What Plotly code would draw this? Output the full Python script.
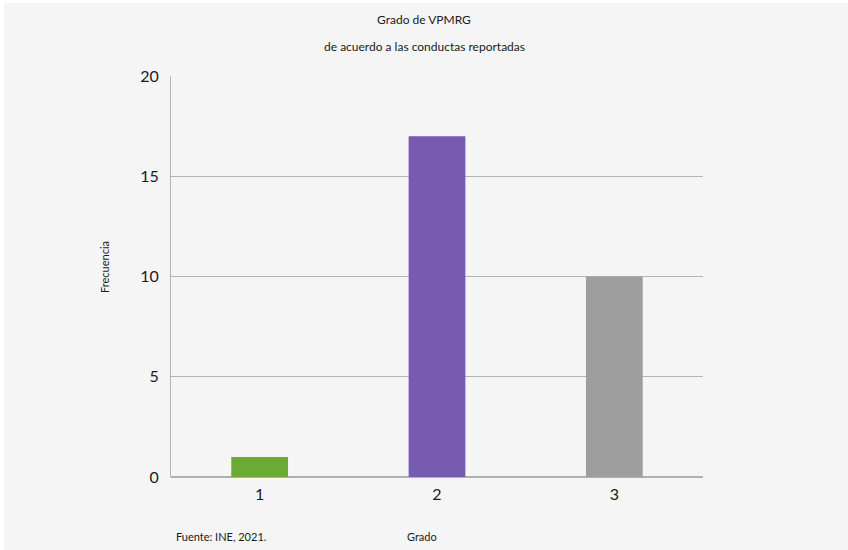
import plotly.graph_objects as go

categories = ["1", "2", "3"]
values = [1, 17, 10]
bar_colors = ["#6aaa35", "#765bb0", "#9e9e9e"]
y_ticks = [0, 5, 10, 15, 20]

bg = "#f5f5f5"
font_family = "Lato, 'Open Sans', sans-serif"
text_color = "#1a1a1a"

W, H = 848, 550
L, R, T, B = 171, 145, 76, 73

fig = go.Figure(
    go.Bar(
        x=categories,
        y=values,
        marker=dict(color=bar_colors, line=dict(width=0)),
        hoverinfo="x+y",
    )
)

fig.update_layout(
    width=W,
    height=H,
    paper_bgcolor=bg,
    plot_bgcolor=bg,
    margin=dict(l=L, r=R, t=T, b=B),
    bargap=0.68,
    showlegend=False,
    font=dict(family=font_family, color=text_color),
    xaxis=dict(
        type="category",
        showgrid=False,
        showline=False,
        ticks="",
        tickfont=dict(size=16),
        ticklabelstandoff=6,
    ),
    yaxis=dict(
        range=[0, 20],
        tickvals=y_ticks,
        showgrid=True,
        gridcolor="#b4b4b4",
        gridwidth=1,
        zeroline=True,
        zerolinecolor="#b0b0b0",
        zerolinewidth=2,
        showline=True,
        linecolor="#b4b4b4",
        linewidth=1,
        ticks="",
        tickfont=dict(size=16),
        ticklabelstandoff=8,
    ),
)

plot_w = W - L - R
plot_h = H - T - B


def px_x(p):
    return (p - L) / plot_w


def px_y(p):
    return (H - B - p) / plot_h


# Thin white rim along the top and left edges of the panel
for x0, x1, y0, y1 in [(-2, W + 2, -2, 3), (-2, 4, -2, H + 2)]:
    fig.add_shape(
        type="rect", xref="paper", yref="paper", layer="below",
        x0=px_x(x0), x1=px_x(x1), y0=px_y(y1), y1=px_y(y0),
        fillcolor="#ffffff", line=dict(width=0),
    )

texts = [
    ("Grado de VPMRG", 424, 19, "center", 12, 0),
    ("de acuerdo a las conductas reportadas", 424, 46, "center", 12, 0),
    ("Fuente: INE, 2021.", 174, 536, "left", 11, 0),
    ("Grado", 422, 536, "center", 11, 0),
    ("Frecuencia", 104, 267, "center", 11, -90),
]
for t, x, y, anchor, size, ang in texts:
    fig.add_annotation(
        text=t, x=px_x(x), y=px_y(y), xref="paper", yref="paper",
        showarrow=False, xanchor=anchor, yanchor="middle",
        textangle=ang, font=dict(size=size, color=text_color),
    )

fig.write_html("out.html")
